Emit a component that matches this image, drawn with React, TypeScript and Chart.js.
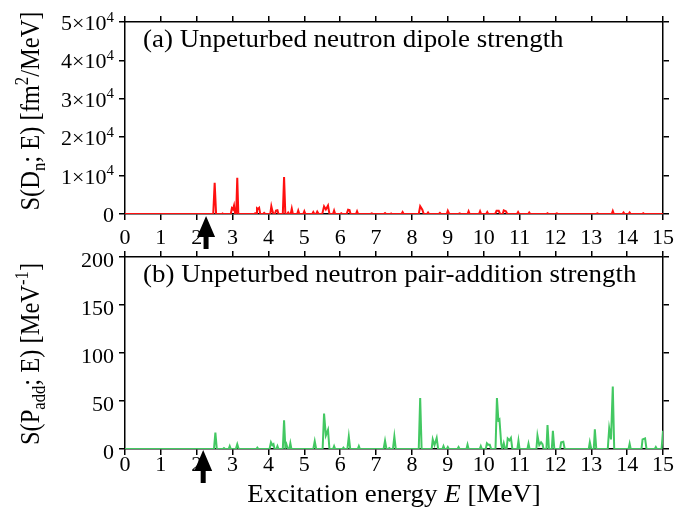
import { useEffect, useRef } from "react";
import { Chart, registerables } from "chart.js";

Chart.register(...registerables);

// ---- axis ranges and tick values ----
const energyTicks = [0, 1, 2, 3, 4, 5, 6, 7, 8, 9, 10, 11, 12, 13, 14, 15];
const dipoleTicks = [0, 10000, 20000, 30000, 40000, 50000];
const pairTicks = [0, 50, 100, 150, 200];

// threshold markers (MeV)
const dipoleArrowEnergy = 2.26;
const pairArrowEnergy = 2.18;

// ---- (a) unperturbed neutron dipole strength, fm^2/MeV ----
const dipoleEnergy = [
  0, 2.46, 2.5, 2.54, 2.7, 2.72, 2.74, 2.95, 2.98, 3.01, 3.04, 3.07, 3.1, 3.13, 3.16,
  3.6, 3.63, 3.66, 3.68, 3.71, 3.74, 3.77, 3.85, 3.88, 3.91, 4.05, 4.08, 4.11, 4.14,
  4.18, 4.21, 4.25, 4.28, 4.4, 4.435, 4.47, 4.52, 4.55, 4.58, 4.62, 4.65, 4.68, 4.8,
  4.83, 4.86, 4.97, 5.0, 5.03, 5.22, 5.25, 5.28, 5.33, 5.36, 5.4, 5.5, 5.55, 5.6, 5.66,
  5.7, 5.8, 5.83, 5.86, 6.0, 6.03, 6.06, 6.18, 6.22, 6.26, 6.29, 6.44, 6.47, 6.5, 6.85,
  6.88, 6.91, 7.22, 7.25, 7.28, 7.4, 7.42, 7.44, 7.71, 7.74, 7.77, 8.19, 8.23, 8.29,
  8.33, 8.42, 8.45, 8.48, 8.75, 8.78, 8.81, 8.97, 9.0, 9.04, 9.3, 9.33, 9.36, 9.55, 9.58,
  9.61, 9.87, 9.9, 9.93, 10.07, 10.1, 10.13, 10.32, 10.36, 10.42, 10.46, 10.53, 10.56,
  10.62, 10.66, 10.93, 10.96, 10.99, 11.24, 11.27, 11.3, 11.75, 11.78, 11.81, 12.01,
  12.04, 12.07, 13.14, 13.17, 13.2, 13.57, 13.6, 13.63, 13.87, 13.9, 13.93, 14.04,
  14.07, 14.1, 14.42, 14.45, 14.48, 15,
];
const dipoleStrength = [
  0, 0, 8100, 0, 0, 150, 0, 0, 1500, 1200, 2200, 0, 0, 9400, 0,
  0, 200, 0, 1500, 1300, 1600, 0, 0, 300, 0, 0, 2000, 800, 0,
  0, 900, 1000, 0, 0, 9600, 0, 0, 400, 0, 0, 1400, 0, 0,
  900, 0, 0, 700, 0, 0, 500, 0, 0, 600, 0, 0, 2000, 1200, 2200,
  0, 0, 900, 0, 0, 200, 0, 0, 1100, 1000, 0, 0, 700, 0, 0,
  150, 0, 0, 250, 0, 0, 150, 0, 0, 500, 0, 0, 2000, 1100,
  0, 0, 400, 0, 0, 300, 0, 0, 850, 0, 0, 150, 0, 0, 700,
  0, 0, 700, 0, 0, 500, 0, 0, 850, 850, 0, 0, 950,
  700, 0, 0, 500, 0, 0, 400, 0, 0, 200, 0, 0,
  150, 0, 0, 150, 0, 0, 800, 0, 0, 400, 0, 0,
  400, 0, 0, 200, 0, 0,
];

// ---- (b) unperturbed neutron pair-addition strength, 1/MeV ----
const pairEnergy = [
  0, 2.48, 2.52, 2.56, 2.73, 2.76, 2.79, 2.89, 2.92, 2.95, 3.09, 3.13, 3.17, 3.66, 3.69,
  3.72, 4.03, 4.07, 4.11, 4.14, 4.17, 4.22, 4.25, 4.28, 4.4, 4.435, 4.47, 4.5, 4.53,
  4.58, 4.61, 4.64, 5.25, 5.29, 5.33, 5.51, 5.55, 5.6, 5.66, 5.7, 5.8, 5.83, 5.86, 6.06,
  6.09, 6.12, 6.2, 6.24, 6.28, 6.49, 6.52, 6.55, 7.21, 7.25, 7.29, 7.34, 7.37, 7.4, 7.47,
  7.51, 7.55, 8.19, 8.23, 8.27, 8.55, 8.58, 8.63, 8.69, 8.73, 8.85, 8.88, 8.91, 8.97, 9.0,
  9.03, 9.27, 9.3, 9.33, 9.52, 9.55, 9.58, 9.89, 9.92, 9.95, 10.06, 10.09, 10.13, 10.17,
  10.21, 10.33, 10.37, 10.41, 10.44, 10.49, 10.52, 10.56, 10.6, 10.64, 10.67, 10.72,
  10.76, 10.8, 10.94, 10.97, 11.0, 11.22, 11.25, 11.28, 11.47, 11.5, 11.55, 11.6, 11.64,
  11.67, 11.75, 11.78, 11.82, 11.9, 11.93, 11.97, 12.13, 12.16, 12.22, 12.26, 12.93,
  12.96, 13.0, 13.07, 13.1, 13.14, 13.46, 13.5, 13.55, 13.6, 13.64, 14.04, 14.07, 14.1,
  14.4, 14.43, 14.5, 14.54, 14.77, 14.8, 14.83, 14.96, 15.0,
];
const pairStrength = [
  0, 0, 17, 0, 0, 1, 0, 0, 3, 0, 0, 5, 0, 0, 1.5,
  0, 0, 7, 4, 5, 0, 0, 3, 0, 0, 30, 2, 5, 1,
  0, 6, 0, 0, 8, 0, 0, 37, 14, 20, 0, 0, 3, 0, 0,
  1.5, 0, 0, 13, 0, 0, 3, 0, 0, 8.5, 0, 0, 1, 0, 0,
  13, 0, 0, 53, 0, 0, 10, 4, 11.5, 0, 0, 3, 0, 0, 2,
  0, 0, 2, 0, 0, 4.5, 0, 0, 3, 0, 0, 6, 4.5, 4.5,
  0, 0, 53, 30, 31, 5, 0, 6, 0, 0, 11, 9,
  11.5, 0, 0, 8.5, 0, 0, 5.5, 0, 0, 14, 4, 7, 5,
  0, 0, 25, 0, 0, 19, 0, 0, 7, 7.5, 0, 0,
  7, 0, 0, 20.5, 0, 0, 21.5, 10, 65, 0, 0, 5.5, 0,
  0, 10, 11, 0, 0, 2, 0, 0, 19,
];

// ---- text helpers ----
const SERIF = "'Liberation Serif', 'Times New Roman', Times, serif";
const STRETCH = 1.1;

type Run = { t: string; k?: "sub" | "sup" | "it" };

function runFont(size: number, k?: string) {
  const s = k === "sub" || k === "sup" ? size * 0.68 : size;
  return `${k === "it" ? "italic " : ""}${s}px ${SERIF}`;
}
function runShift(size: number, k?: string) {
  if (k === "sub") return size * 0.24;
  if (k === "sup") return -size * 0.42;
  return 0;
}
function measureRuns(ctx: CanvasRenderingContext2D, runs: Run[], size: number) {
  let w = 0;
  for (const r of runs) {
    ctx.font = runFont(size, r.k);
    w += ctx.measureText(r.t).width;
  }
  return w;
}
function drawRuns(
  ctx: CanvasRenderingContext2D,
  runs: Run[],
  size: number,
  x: number,
  y: number,
  align: "left" | "right" | "center",
  rotated = false
) {
  ctx.save();
  ctx.fillStyle = "#000";
  ctx.textAlign = "left";
  ctx.textBaseline = "alphabetic";
  const w = measureRuns(ctx, runs, size);
  ctx.translate(x, y);
  if (rotated) {
    ctx.rotate(-Math.PI / 2);
    ctx.scale(1, STRETCH);
  } else {
    ctx.scale(STRETCH, 1);
  }
  let cx = align === "left" ? 0 : align === "right" ? -w : -w / 2;
  for (const r of runs) {
    ctx.font = runFont(size, r.k);
    ctx.fillText(r.t, cx, runShift(size, r.k));
    cx += ctx.measureText(r.t).width;
  }
  ctx.restore();
}

function drawArrow(ctx: CanvasRenderingContext2D, x: number, tip: number) {
  ctx.save();
  ctx.fillStyle = "#000";
  ctx.beginPath();
  ctx.moveTo(x, tip);
  ctx.lineTo(x + 9, tip + 21);
  ctx.lineTo(x + 2.5, tip + 21);
  ctx.lineTo(x + 2.5, tip + 33);
  ctx.lineTo(x - 2.5, tip + 33);
  ctx.lineTo(x - 2.5, tip + 21);
  ctx.lineTo(x - 9, tip + 21);
  ctx.closePath();
  ctx.fill();
  ctx.restore();
}

// ---- chart builders ----
type PanelSpec = {
  energy: number[];
  strength: number[];
  color: string;
  yMax: number;
  yStep: number;
  yTicks: number[];
  yTickRuns: (v: number) => Run[];
  yLabelDy: number;
  topPad: number;
  bottomPad: number;
  yTitle: Run[];
  yTitleCenter: number;
  panelLabel: string;
  panelBaseline: number;
  arrowEnergy: number;
  arrowTip: number;
  xLabelBaseline: number;
  xTitleBaseline?: number;
};

function frameAxis(horizontal: boolean, position: string, min: number, max: number, step: number, size: number) {
  return {
    type: "linear",
    position,
    min,
    max,
    ticks: { display: false, stepSize: step, autoSkip: false },
    grid: {
      drawOnChartArea: false,
      drawTicks: true,
      tickLength: 6,
      lineWidth: 1.5,
      color: "#000",
    },
    border: { display: true, width: 1.5, color: "#000" },
    afterFit: (s: any) => {
      if (horizontal) s.height = size;
      else s.width = size;
    },
  };
}

function buildConfig(p: PanelSpec): any {
  const TICK = 20;
  const TITLE = 24.5;
  return {
    type: "line",
    data: {
      datasets: [
        {
          data: p.energy.map((e, i) => ({ x: e, y: p.strength[i] })),
          borderColor: p.color,
          borderWidth: 2,
          pointRadius: 0,
          fill: false,
          tension: 0,
        },
      ],
    },
    options: {
      responsive: false,
      maintainAspectRatio: false,
      animation: false,
      devicePixelRatio: 1,
      layout: { padding: 0 },
      plugins: { legend: { display: false }, tooltip: { enabled: false } },
      scales: {
        x: frameAxis(true, "bottom", 0, 15, 1, p.bottomPad),
        x2: frameAxis(true, "top", 0, 15, 1, p.topPad),
        y: frameAxis(false, "left", 0, p.yMax, p.yStep, 125),
        y2: frameAxis(false, "right", 0, p.yMax, p.yStep, 25),
      },
    },
    plugins: [
      {
        id: "panelDecor",
        afterDraw(chart: any) {
          const ctx: CanvasRenderingContext2D = chart.ctx;
          const xs = chart.scales.x;
          const ys = chart.scales.y;
          // energy tick labels
          for (const e of energyTicks) {
            drawRuns(ctx, [{ t: String(e) }], TICK, xs.getPixelForValue(e), p.xLabelBaseline, "center");
          }
          // strength tick labels
          for (const v of p.yTicks) {
            drawRuns(ctx, p.yTickRuns(v), TICK, 114, ys.getPixelForValue(v) + p.yLabelDy, "right");
          }
          // axis title
          drawRuns(ctx, p.yTitle, TITLE, 39, p.yTitleCenter, "center", true);
          // panel caption
          drawRuns(ctx, [{ t: p.panelLabel }], TITLE, 143, p.panelBaseline, "left");
          if (p.xTitleBaseline !== undefined) {
            drawRuns(
              ctx,
              [{ t: "Excitation energy " }, { t: "E", k: "it" }, { t: " [MeV]" }],
              TITLE,
              (chart.chartArea.left + chart.chartArea.right) / 2,
              p.xTitleBaseline,
              "center"
            );
          }
          drawArrow(ctx, xs.getPixelForValue(p.arrowEnergy), p.arrowTip);
        },
      },
    ],
  };
}

const dipolePanel: PanelSpec = {
  energy: dipoleEnergy,
  strength: dipoleStrength,
  color: "#ff1010",
  yMax: 50000,
  yStep: 10000,
  yTicks: dipoleTicks,
  yTickRuns: (v) => (v === 0 ? [{ t: "0" }] : [{ t: `${v / 10000}×10` }, { t: "4", k: "sup" }]),
  yLabelDy: 8,
  topPad: 22,
  bottomPad: 36,
  yTitle: [
    { t: "S(D" },
    { t: "n", k: "sub" },
    { t: "; E) [fm" },
    { t: "2", k: "sup" },
    { t: "/MeV]" },
  ],
  yTitleCenter: 111,
  panelLabel: "(a) Unpeturbed neutron dipole strength",
  panelBaseline: 47,
  arrowEnergy: dipoleArrowEnergy,
  arrowTip: 216,
  xLabelBaseline: 243.5,
};

const pairPanel: PanelSpec = {
  energy: pairEnergy,
  strength: pairStrength,
  color: "#43c862",
  yMax: 200,
  yStep: 50,
  yTicks: pairTicks,
  yTickRuns: (v) => [{ t: String(v) }],
  yLabelDy: 10,
  topPad: 7,
  bottomPad: 61,
  yTitle: [
    { t: "S(P" },
    { t: "add", k: "sub" },
    { t: "; E) [MeV" },
    { t: "-1", k: "sup" },
    { t: "]" },
  ],
  yTitleCenter: 104,
  panelLabel: "(b) Unpeturbed neutron pair-addition strength",
  panelBaseline: 31.5,
  arrowEnergy: pairArrowEnergy,
  arrowTip: 200,
  xLabelBaseline: 220.5,
  xTitleBaseline: 252,
};

export default function App() {
  const topRef = useRef<HTMLCanvasElement>(null);
  const bottomRef = useRef<HTMLCanvasElement>(null);

  useEffect(() => {
    const a = new Chart(topRef.current as HTMLCanvasElement, buildConfig(dipolePanel));
    const b = new Chart(bottomRef.current as HTMLCanvasElement, buildConfig(pairPanel));
    return () => {
      a.destroy();
      b.destroy();
    };
  }, []);

  return (
    <div style={{ position: "absolute", left: 0, top: 0, width: 688, height: 510, background: "#fff" }}>
      <canvas
        ref={topRef}
        width={688}
        height={250}
        style={{ position: "absolute", left: 0, top: 0, width: 688, height: 250 }}
      />
      <canvas
        ref={bottomRef}
        width={688}
        height={260}
        style={{ position: "absolute", left: 0, top: 250, width: 688, height: 260 }}
      />
    </div>
  );
}
